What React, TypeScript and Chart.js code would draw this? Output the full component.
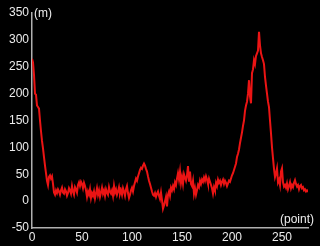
import React, { useEffect, useRef } from "react";
import { Chart, registerables } from "chart.js";

Chart.register(...registerables);

const heights: number[] = [
  265, 258, 235, 200, 198, 178, 175, 172, 150, 130,
  112, 98, 82, 66, 52, 38, 30, 45, 48, 42,
  46, 32, 16, 12, 20, 15, 22, 18, 12, 20,
  25, 16, 14, 22, 18, 10, 15, 24, 20, 14,
  28, 18, 12, 26, 22, 16, 30, 35, 28, 36,
  32, 24, 34, 28, 20, 8, 18, 12, 22, 6,
  15, 10, 18, 5, 14, 24, 12, 20, 8, 16,
  25, 14, 20, 10, 22, 16, 12, 26, 18, 14,
  20, 10, 28, 16, 22, 12, 18, 26, 14, 20,
  12, 24, 18, 10, 22, 28, 15, 6, 12, 20,
  25, 18, 28, 35, 42, 38, 46, 52, 58, 62,
  60, 66, 70, 66, 60, 55, 46, 38, 32, 25,
  18, 12, 10, 15, 8, 14, 18, 10, 4, 16,
  2, -14, -8, 0, 8, -10, 12, 18, 10, 25,
  20, 28, 22, 35, 30, 42, 52, 40, 55, 34,
  45, 32, 50, 44, 38, 48, 65, 36, 55, 32,
  28, 38, 14, 24, 12, 20, 30, 26, 38, 32,
  40, 36, 44, 38, 46, 40, 32, 42, 36, 30,
  24, 14, 26, 20, 34, 28, 40, 34, 38, 30,
  36, 40, 32, 38, 34, 28, 33, 38, 36, 42,
  48, 52, 58, 64, 70, 82, 88, 96, 108, 118,
  128, 140, 150, 168, 178, 185, 200, 225, 195, 182,
  238, 245, 262, 255, 270, 275, 280, 315, 290, 275,
  268, 262, 255, 231, 215, 200, 185, 175, 150, 126,
  100, 80, 60, 45, 52, 61, 35, 40, 30, 55,
  61, 35, 27, 30, 25, 33, 22, 28, 35, 24,
  30, 26, 34, 39, 32, 27, 30, 22, 28, 30,
  24, 26, 20, 22, 18, 20, 17,
];

const xTicks: number[] = [0, 50, 100, 150, 200, 250];
const yUnit = "(m)";
const xUnit = "(point)";
const yMin = -50;
const yMax = 350;
const xMax = 276;
const tickStep = 50;

const FONT = "'Liberation Sans', Arial, sans-serif";

const unitPlugin = {
  id: "units",
  afterDraw(chart: any) {
    const { ctx, chartArea } = chart;
    ctx.save();
    ctx.fillStyle = "#ececec";
    ctx.font = "12px " + FONT;
    ctx.textBaseline = "middle";
    ctx.textAlign = "left";
    ctx.fillText(yUnit, chartArea.left + 2, chartArea.top + 1);
    ctx.textAlign = "right";
    ctx.fillText(xUnit, chartArea.right + 6, chartArea.bottom - 8);
    ctx.restore();
  },
};

export default function App() {
  const ref = useRef<HTMLCanvasElement>(null);
  useEffect(() => {
    document.body.style.margin = "0";
    const points = heights.map((v, i) => ({ x: i, y: v }));
    const chart = new Chart(ref.current!, {
      type: "line",
      data: {
        datasets: [
          {
            data: points,
            borderColor: "rgb(235,20,20)",
            borderWidth: 2,
            pointRadius: 0,
            tension: 0,
            fill: false,
          },
        ],
      },
      options: {
        animation: false,
        responsive: false,
        maintainAspectRatio: false,
        layout: { padding: { top: 13, right: 12, left: 0, bottom: 0 } },
        plugins: { legend: { display: false }, tooltip: { enabled: false } },
        scales: {
          x: {
            type: "linear",
            min: 0,
            max: xMax,
            grid: { display: false, drawTicks: false },
            border: { display: true, color: "#b0b0b0", width: 1.5 },
            afterBuildTicks: (s: any) => {
              s.ticks = xTicks.map((v) => ({ value: v }));
            },
            ticks: {
              color: "#ececec",
              padding: 2,
              maxRotation: 0,
              autoSkip: false,
              font: { size: 12, family: FONT },
            },
            afterFit: (s: any) => {
              s.height = 18;
            },
          },
          y: {
            min: yMin,
            max: yMax,
            grid: { display: false, drawTicks: false },
            border: { display: true, color: "#b0b0b0", width: 1.5 },
            ticks: {
              stepSize: tickStep,
              color: "#ececec",
              padding: 3,
              font: { size: 12, family: FONT },
            },
            afterFit: (s: any) => {
              s.width = 32;
            },
          },
        },
      },
      plugins: [unitPlugin],
    });
    return () => chart.destroy();
  }, []);
  return (
    <div style={{ width: 320, height: 246, background: "#000" }}>
      <canvas ref={ref} width={320} height={246} />
    </div>
  );
}
